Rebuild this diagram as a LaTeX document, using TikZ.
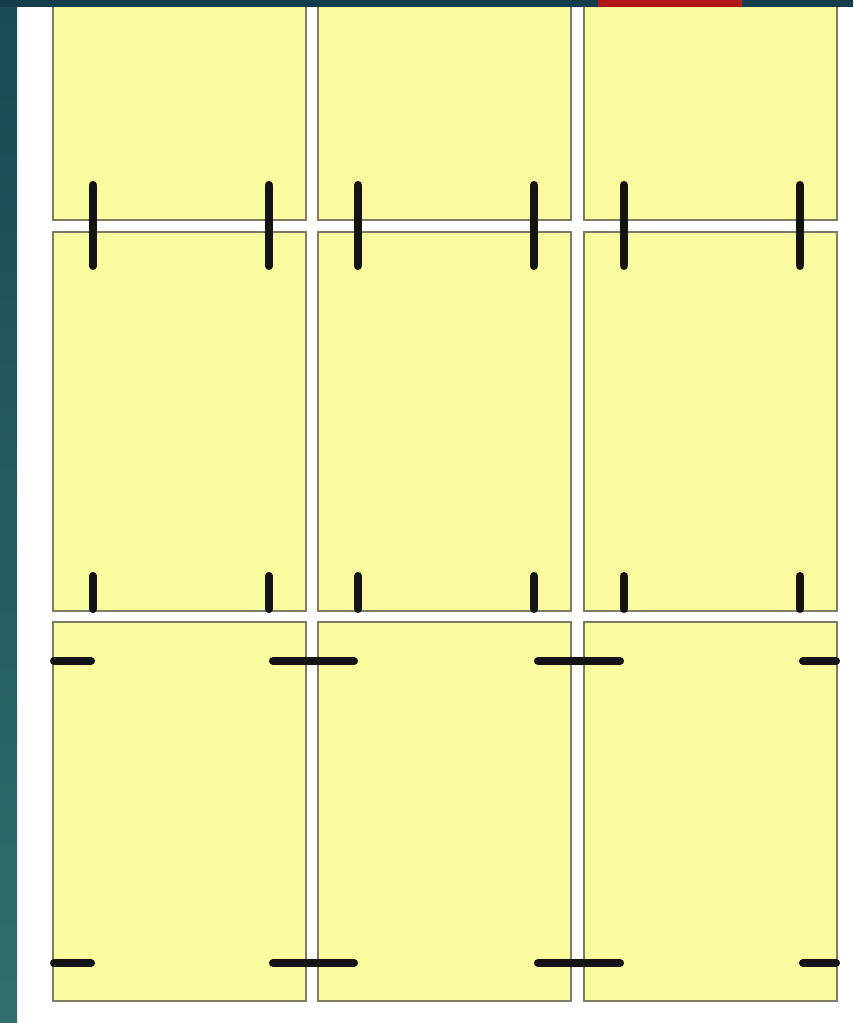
\documentclass[tikz,border=0pt]{standalone}
\usetikzlibrary{positioning,calc}
\definecolor{pad}{RGB}{250,250,158}
\definecolor{rim}{RGB}{128,124,100}
\definecolor{bandtop}{RGB}{20,60,74}
\definecolor{stripup}{RGB}{26,74,84}
\definecolor{stripdown}{RGB}{46,110,108}
\definecolor{redblock}{RGB}{178,24,22}
\tikzset{
  every picture/.style={line width=0.5pt},
  card/.style={draw=rim, fill=pad, line width=1.1pt, inner sep=0pt, outer sep=0pt, minimum width=5.06cm},
  tallcard/.style={card, minimum height=7.58cm},
  shortcard/.style={card, minimum height=4.36cm},
  bar/.style={line width=4.6pt, line cap=round, color=black!92},
}

\begin{document}
\begin{tikzpicture}[x=0.02cm, y=-0.02cm]
  \useasboundingbox (0,0) rectangle (853,1023);
  \fill[white] (0,0) rectangle (853,1023);
  % the three columns of sheets, cut off at the top
  \foreach \c/\x in {1/53,2/318,3/584} {
    \node[shortcard, anchor=north west] (top\c) at (\x,2) {};
    \node[tallcard, anchor=north west] (mid\c) at (\x,232) {};
    \node[tallcard, anchor=north west] (low\c) at (\x,622) {};
  }
  % upright marks over the first seam and at the foot of the middle row
  \foreach \x in {53,318,584} \foreach \d in {40,216} {
    \draw[bar] (\x+\d,185) -- (\x+\d,266);
    \draw[bar] (\x+\d,576) -- (\x+\d,609);
  }
  % flat marks in the bottom row, run across the gaps
  \foreach \y in {661,963} {
    \foreach \a/\b in {54/91,273/354,538/620,803/836} { \draw[bar] (\a,\y) -- (\b,\y); }
  }
  % frame of the slide
  \shade[top color=stripup, bottom color=stripdown] (0,0) rectangle (17,1023);
  \fill[bandtop] (0,0) rectangle (853,7);
  \fill[redblock] (598,0) rectangle (742,7);
\end{tikzpicture}
\end{document}
